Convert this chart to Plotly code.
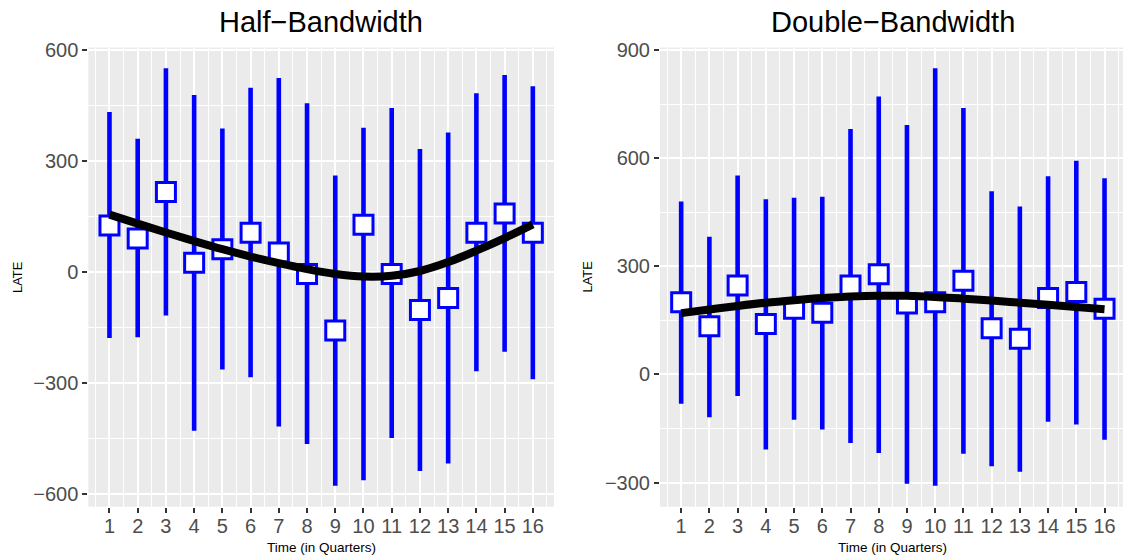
import numpy as np
import plotly.graph_objects as go

# ---- data -------------------------------------------------------------
quarters = list(range(1, 17))

half_late = [126, 91, 216, 25, 62, 106, 53, -5, -158, 128, -5, -102, -70, 106, 158, 106]
half_upper = [432, 360, 550, 478, 388, 498, 524, 456, 261, 390, 443, 332, 377, 483, 532, 502]
half_lower = [-178, -176, -117, -428, -263, -284, -417, -464, -577, -562, -448, -537, -517, -268, -215, -289]
half_trend = [155, 131, 107, 84, 62, 42, 24, 8, -5, -12, -10, 3, 27, 58, 92, 129]

double_late = [200, 134, 247, 140, 182, 171, 247, 278, 197, 200, 260, 128, 99, 212, 229, 182]
double_upper = [480, 382, 552, 486, 490, 493, 681, 771, 692, 849, 739, 508, 466, 550, 593, 544]
double_lower = [-81, -119, -60, -208, -126, -153, -190, -218, -303, -309, -220, -255, -270, -131, -139, -181]
double_trend = [170, 180, 190, 199, 206, 212, 216, 218, 218, 215, 210, 205, 199, 193, 187, 181]

panel_titles = ["Half\u2212Bandwidth", "Double\u2212Bandwidth"]
x_title = "Time (in Quarters)"
y_title = "LATE"

W, H = 1123, 559
FONT = "Liberation Sans, Arial, sans-serif"
BLUE = "#0000FF"

# panel geometry in pixels
left_px = [(88.3, 554.0), (660.0, 1125.0)]
top_px, bottom_px = 47.5, 506.7
unit_px = (left_px[0][1] - left_px[0][0]) / 16.5

fig = go.Figure()

panels = [
    (half_late, half_upper, half_lower, half_trend),
    (double_late, double_upper, double_lower, double_trend),
]

for i, (late, up, lo, trend) in enumerate(panels):
    xa = "x" if i == 0 else "x2"
    ya = "y" if i == 0 else "y2"
    late_a = np.array(late, float)
    # point estimates with confidence intervals
    fig.add_trace(go.Scatter(
        x=quarters, y=late, xaxis=xa, yaxis=ya, mode="markers",
        marker=dict(symbol="square", size=19, color="white",
                    line=dict(color=BLUE, width=3)),
        error_y=dict(type="data", symmetric=False,
                     array=list(np.array(up) - late_a),
                     arrayminus=list(late_a - np.array(lo)),
                     color=BLUE, thickness=4.6, width=0),
        showlegend=False, hoverinfo="skip",
    ))
    # smoothed trend drawn on top of the markers
    fig.add_trace(go.Scatter(
        x=quarters, y=trend, xaxis=xa, yaxis=ya, mode="lines",
        line=dict(color="black", width=8, shape="spline", smoothing=1),
        showlegend=False, hoverinfo="skip",
    ))

axis_common = dict(
    showgrid=True, gridcolor="white", gridwidth=2,
    zeroline=False, showline=False, automargin=False,
    ticks="outside", ticklen=5, tickwidth=2, tickcolor="#333333",
    tickfont=dict(family=FONT, size=20, color="#4D4D4D"),
)

y_dom = [(H - bottom_px) / H, (H - top_px) / H]

for i, (late, up, lo, trend) in enumerate(panels):
    x0, x1 = left_px[i]
    x1_vis = min(x1, W)
    xr = [0.25, 0.25 + (x1_vis - x0) / unit_px]
    lo_v, hi_v = min(lo), max(up)
    pad = 0.05 * (hi_v - lo_v)
    xkey = "xaxis" if i == 0 else "xaxis2"
    ykey = "yaxis" if i == 0 else "yaxis2"
    fig.update_layout({
        xkey: dict(axis_common, domain=[x0 / W, x1_vis / W], range=xr,
                   anchor="y" if i == 0 else "y2",
                   tickmode="linear", tick0=1, dtick=1,
                   ticklabelstandoff=-4,
                   minor=dict(tick0=0.5, dtick=1, showgrid=True,
                              gridcolor="white", gridwidth=1, ticks="")),
        ykey: dict(axis_common, domain=y_dom, range=[lo_v - pad, hi_v + pad],
                   anchor="x" if i == 0 else "x2",
                   tickmode="linear", tick0=0, dtick=300,
                   minor=dict(tick0=150, dtick=300, showgrid=True,
                              gridcolor="white", gridwidth=1, ticks="")),
    })

annotations = []
for i in range(2):
    x0, x1 = left_px[i]
    cx = (x0 + x1) / 2
    annotations.append(dict(
        text=panel_titles[i], x=cx / W, y=1 - 22 / H, xref="paper", yref="paper",
        xanchor="center", yanchor="middle", showarrow=False,
        font=dict(family=FONT, size=29, color="black")))
    annotations.append(dict(
        text=x_title, x=cx / W, y=1 - 547 / H, xref="paper", yref="paper",
        xanchor="center", yanchor="middle", showarrow=False,
        font=dict(family=FONT, size=13.5, color="black")))
    annotations.append(dict(
        text=y_title, x=(17 if i == 0 else 587.5) / W,
        y=1 - (top_px + bottom_px) / 2 / H, xref="paper", yref="paper",
        xanchor="center", yanchor="middle", showarrow=False, textangle=-90,
        font=dict(family=FONT, size=13, color="black")))

fig.update_layout(
    width=W, height=H,
    margin=dict(l=0, r=0, t=0, b=0, pad=0, autoexpand=False),
    paper_bgcolor="white", plot_bgcolor="#EBEBEB",
    annotations=annotations,
)

fig.write_html("out.html")
